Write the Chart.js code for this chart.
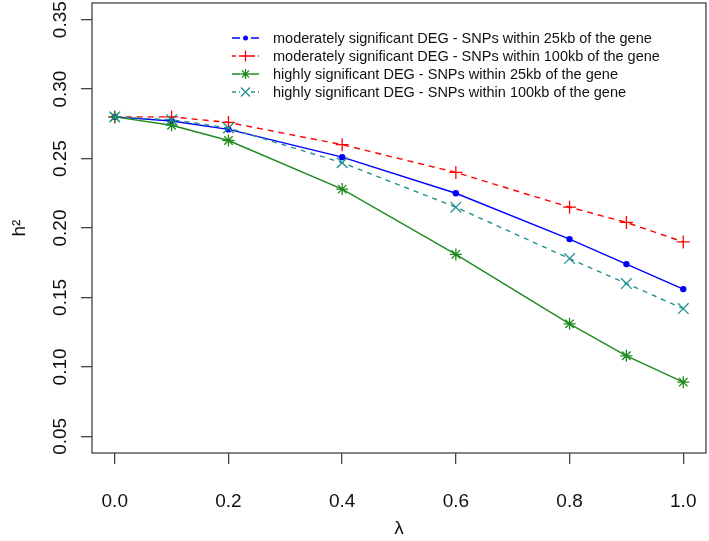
<!DOCTYPE html>
<html>
<head>
<meta charset="utf-8">
<script src="https://cdn.jsdelivr.net/npm/chart.js@4/dist/chart.umd.min.js"></script>
<style>
  body { margin: 0; background: #fff; }
  #wrap { width: 709px; height: 541px; }
</style>
</head>
<body>
<div id="wrap"><canvas id="grafico" width="709" height="541"></canvas></div>
<script>
// --- Datos ---
const lambdas   = [0, 0.1, 0.2, 0.4, 0.6, 0.8, 0.9, 1.0];
const modNear   = [0.280, 0.277, 0.271, 0.251, 0.225, 0.192, 0.174, 0.156];
const modFar    = [0.280, 0.280, 0.276, 0.260, 0.240, 0.215, 0.204, 0.190];
const highNear  = [0.280, 0.274, 0.263, 0.228, 0.181, 0.131, 0.108, 0.089];
const highFar   = [0.280, 0.278, 0.272, 0.247, 0.215, 0.178, 0.160, 0.142];
const xTicks    = [0, 0.2, 0.4, 0.6, 0.8, 1.0];
const yTicks    = [0.05, 0.10, 0.15, 0.20, 0.25, 0.30, 0.35];
const seriesNames = [
  'moderately significant DEG - SNPs within 25kb of the gene',
  'moderately significant DEG - SNPs within 100kb of the gene',
  'highly significant DEG - SNPs within 25kb of the gene',
  'highly significant DEG - SNPs within 100kb of the gene'
];

// --- Helpers ---
const FONT = '"Liberation Sans", Arial, sans-serif';
const toPoints = vals => vals.map((v, i) => ({ x: lambdas[i], y: v }));
const styles = [
  { color: '#0000ff', dash: [],     point: 'circle',   radius: 3.2, fill: true },
  { color: '#ff0000', dash: [6, 5], point: 'cross',    radius: 6.5, fill: false },
  { color: '#1e8a1e', dash: [],     point: 'star',     radius: 6,   fill: false },
  { color: '#219090', dash: [5, 5], point: 'crossRot', radius: 7.5, fill: false }
];
const allSeries = [modNear, modFar, highNear, highFar];

const drawMarker = (ctx, st, x, y) => {
  ctx.save();
  ctx.strokeStyle = st.color; ctx.fillStyle = st.color;
  ctx.lineWidth = 1.3; ctx.setLineDash([]);
  const r = st.radius;
  ctx.beginPath();
  if (st.point === 'circle') {
    ctx.arc(x, y, r, 0, Math.PI * 2); ctx.fill();
  } else {
    const plus = () => { ctx.moveTo(x - r, y); ctx.lineTo(x + r, y); ctx.moveTo(x, y - r); ctx.lineTo(x, y + r); };
    const diag = k => { ctx.moveTo(x - k, y - k); ctx.lineTo(x + k, y + k); ctx.moveTo(x - k, y + k); ctx.lineTo(x + k, y - k); };
    if (st.point === 'cross') plus();
    if (st.point === 'crossRot') diag(r * 0.707);
    if (st.point === 'star') { plus(); diag(r * 0.707); }
    ctx.stroke();
  }
  ctx.restore();
};

// caja, etiquetas del eje y rotadas y leyenda
const extras = {
  id: 'extras',
  afterDraw: chart => {
    const { ctx, chartArea: a, scales } = chart;
    ctx.save();
    ctx.strokeStyle = '#444'; ctx.lineWidth = 1.3;
    ctx.strokeRect(a.left, a.top, a.right - a.left, a.bottom - a.top);

    ctx.fillStyle = '#111';
    ctx.font = `19px ${FONT}`;
    ctx.textAlign = 'center'; ctx.textBaseline = 'middle';
    yTicks.forEach(v => {
      const py = scales.y.getPixelForValue(v);
      ctx.save(); ctx.translate(61, py); ctx.rotate(-Math.PI / 2);
      ctx.fillText(v.toFixed(2), 0, 0);
      ctx.restore();
    });

    ctx.font = `14.5px ${FONT}`;
    ctx.textAlign = 'left';
    seriesNames.forEach((name, i) => {
      const y = 38 + i * 18, st = styles[i];
      ctx.save();
      ctx.strokeStyle = st.color; ctx.lineWidth = 1.4;
      ctx.setLineDash(st.dash.length ? [4, 3] : []);
      ctx.beginPath();
      ctx.moveTo(232, y); ctx.lineTo(240, y);
      ctx.moveTo(251, y); ctx.lineTo(259, y);
      ctx.stroke();
      ctx.restore();
      drawMarker(ctx, { ...st, radius: st.point === 'circle' ? 2.5 : st.radius * 0.85 }, 245.5, y);
      ctx.fillStyle = '#111';
      ctx.fillText(name, 273, y + 1);
    });
    ctx.restore();
  }
};

// -- Gráfico --
new Chart(document.getElementById('grafico'), {
  type: 'line',
  data: {
    datasets: allSeries.map((vals, i) => ({
      label: seriesNames[i],
      data: toPoints(vals),
      borderColor: styles[i].color,
      backgroundColor: styles[i].fill ? styles[i].color : 'transparent',
      borderDash: styles[i].dash,
      borderWidth: 1.4,
      pointStyle: styles[i].point,
      pointRadius: styles[i].radius,
      pointBorderWidth: styles[i].fill ? 0 : 1.3,
      pointBorderColor: styles[i].color,
      tension: 0,
      order: 4 - i
    }))
  },
  options: {
    responsive: false,
    animation: false,
    layout: { autoPadding: false, padding: { top: 3, right: 3, left: 0, bottom: 0 } },
    plugins: { legend: { display: false }, tooltip: { enabled: false } },
    scales: {
      x: {
        type: 'linear', min: -0.04, max: 1.04,
        afterBuildTicks: s => { s.ticks = xTicks.map(v => ({ value: v })); },
        afterFit: s => { s.height = 88; s.paddingLeft = 0; s.paddingRight = 0; },
        grid: { display: true, drawOnChartArea: false, drawTicks: true, tickLength: 11, color: '#444', lineWidth: 1.3 },
        border: { display: false },
        ticks: { color: '#111', font: { family: FONT, size: 19 }, padding: 26, maxRotation: 0, callback: v => v.toFixed(1) },
        title: { display: true, text: 'λ', color: '#111', font: { family: FONT, size: 19 }, padding: { top: 0, bottom: 1 } }
      },
      y: {
        type: 'linear', min: 0.038, max: 0.362,
        afterBuildTicks: s => { s.ticks = yTicks.map(v => ({ value: v })); },
        afterFit: s => { s.width = 92; s.paddingTop = 0; s.paddingBottom = 0; },
        grid: { display: true, drawOnChartArea: false, drawTicks: true, tickLength: 11, color: '#444', lineWidth: 1.3 },
        border: { display: false },
        ticks: { callback: () => '' },
        title: { display: true, text: 'h²', color: '#111', font: { family: FONT, size: 19 }, padding: { top: 8, bottom: 0 } }
      }
    }
  },
  plugins: [extras]
});
</script>
</body>
</html>
